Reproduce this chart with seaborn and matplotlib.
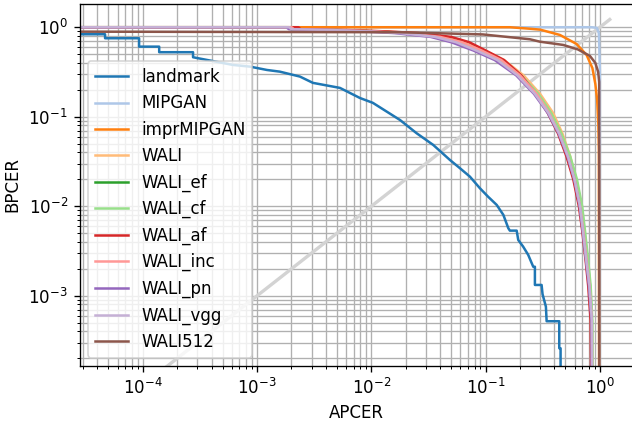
import matplotlib
matplotlib.use("Agg")
import matplotlib.pyplot as plt
import seaborn as sns

# DET 곡선 데이터
landmark_apcer = [2e-5, 4.67e-5, 4.67e-5, 9.27e-5, 9.27e-5, 1.39e-4, 1.39e-4, 2.75e-4, 2.75e-4,
                  6.15e-4, 8.67e-4, 1.22e-3, 1.58e-3, 2.37e-3, 3.08e-3, 5.31e-3, 7.94e-3, 1.03e-2,
                  1.78e-2, 2.49e-2, 3.48e-2, 4.87e-2, 5.96e-2, 7.29e-2, 8.91e-2, 0.105, 0.125, 0.143,
                  0.158, 0.163, 0.187, 0.193, 0.213, 0.236, 0.261, 0.270, 0.270, 0.309, 0.315, 0.337,
                  0.342, 0.441, 0.441, 0.453, 0.453]
landmark_bpcer = [0.835, 0.835, 0.753, 0.753, 0.607, 0.607, 0.526, 0.526, 0.462,
                  0.379, 0.363, 0.333, 0.319, 0.281, 0.239, 0.210, 0.162, 0.143,
                  0.092, 0.0654, 0.0484, 0.0329, 0.0266, 0.0214, 0.0159, 0.0128, 0.01035, 0.0080,
                  0.00568, 0.00534, 0.00534, 0.0042, 0.00354, 0.00286, 0.00211, 0.00211, 0.00132,
                  0.00132, 0.00104, 7.55e-4, 5.19e-4, 5.19e-4, 2.59e-4, 2.59e-4, 1e-5]

mipgan_apcer = [2e-5, 0.846, 0.941, 0.98, 1.0, 1.0]
mipgan_bpcer = [1.0, 1.0, 0.985, 0.857, 0.333, 1e-5]

impr_apcer = [2e-5, 0.163, 0.25, 0.30, 0.447, 0.625, 0.765, 0.86, 0.913, 0.947, 0.970, 0.98, 0.986]
impr_bpcer = [1.0, 1.0, 0.96, 0.94, 0.82, 0.65, 0.49, 0.35, 0.232, 0.154, 0.081, 0.0426, 1e-5]

wali512_apcer = [2e-5, 0.0178, 0.0947, 0.244, 0.298, 0.478, 0.642, 0.818, 0.913, 0.966, 0.986, 0.99]
wali512_bpcer = [0.893, 0.879, 0.831, 0.734, 0.69, 0.634, 0.565, 0.478, 0.399, 0.317, 0.245, 1e-5]

# WALI 계열은 같은 BPCER 수준에서 APCER 값만 조금씩 다름
wali_bpcer = [1.0, 1.0, 0.95, 0.93, 0.90, 0.86, 0.78, 0.68, 0.55, 0.43, 0.29, 0.18, 0.11,
              0.065, 0.036, 0.020, 0.010, 0.0054, 0.0025, 0.0013, 0.00053, 1e-5]
wali_apcer = [2e-5, 2.2e-3, 2.3e-3, 6e-3, 1.2e-2, 2.4e-2, 4.5e-2, 6.8e-2, 0.098, 0.145, 0.215,
              0.30, 0.39, 0.47, 0.55, 0.62, 0.68, 0.72, 0.77, 0.81, 0.845, 0.865]
wali_ef_apcer = [2e-5, 1.9e-3, 2.0e-3, 5e-3, 1.1e-2, 2.1e-2, 4.0e-2, 6.0e-2, 0.09, 0.135, 0.20,
                 0.28, 0.37, 0.455, 0.54, 0.62, 0.69, 0.73, 0.78, 0.82, 0.85, 0.86]
wali_cf_apcer = [2e-5, 2.0e-3, 2.1e-3, 5e-3, 1.0e-2, 2.0e-2, 3.9e-2, 6.0e-2, 0.09, 0.135, 0.205,
                 0.29, 0.375, 0.46, 0.55, 0.63, 0.70, 0.74, 0.79, 0.83, 0.86, 0.87]
wali_af_apcer = [2e-5, 2.3e-3, 2.4e-3, 6e-3, 1.3e-2, 2.6e-2, 5.0e-2, 7.2e-2, 0.10, 0.145, 0.205,
                 0.275, 0.35, 0.43, 0.51, 0.585, 0.655, 0.70, 0.75, 0.79, 0.83, 0.85]
wali_inc_apcer = [2e-5, 2.0e-3, 2.1e-3, 5e-3, 1.0e-2, 2.0e-2, 4.0e-2, 6.2e-2, 0.092, 0.137, 0.20,
                  0.28, 0.36, 0.44, 0.525, 0.60, 0.67, 0.715, 0.765, 0.81, 0.85, 0.86]
wali_pn_apcer = [2e-5, 1.8e-3, 1.9e-3, 4e-3, 8e-3, 1.6e-2, 3.3e-2, 5.0e-2, 0.078, 0.12, 0.185,
                 0.265, 0.35, 0.435, 0.52, 0.595, 0.665, 0.705, 0.755, 0.80, 0.845, 0.86]
wali_vgg_apcer = [2e-5, 1.9e-3, 2.0e-3, 4.5e-3, 9e-3, 1.8e-2, 3.6e-2, 5.5e-2, 0.083, 0.127, 0.19,
                  0.27, 0.355, 0.44, 0.525, 0.60, 0.67, 0.71, 0.76, 0.81, 0.85, 0.862]

diag = [1e-5, 1.22]

series = [
    ("landmark", landmark_apcer, landmark_bpcer),
    ("MIPGAN", mipgan_apcer, mipgan_bpcer),
    ("imprMIPGAN", impr_apcer, impr_bpcer),
    ("WALI", wali_apcer, wali_bpcer),
    ("WALI_ef", wali_ef_apcer, wali_bpcer),
    ("WALI_cf", wali_cf_apcer, wali_bpcer),
    ("WALI_af", wali_af_apcer, wali_bpcer),
    ("WALI_inc", wali_inc_apcer, wali_bpcer),
    ("WALI_pn", wali_pn_apcer, wali_bpcer),
    ("WALI_vgg", wali_vgg_apcer, wali_bpcer),
    ("WALI512", wali512_apcer, wali512_bpcer),
]
colors = sns.color_palette("tab20", 11)

# dpi 120 으로 그려서 글씨/선이 원본처럼 조금 크게 나오게
fig = plt.figure(figsize=(632 / 120, 421 / 120), dpi=120)
ax = fig.add_axes([0.1258, 0.1306, 0.877, 0.86])

# 대각선 (APCER = BPCER)
ax.plot(diag, diag, color="lightgray", linewidth=2)

for (name, xs, ys), c in zip(series, colors):
    sns.lineplot(x=xs, y=ys, color=c, label=name, ax=ax, sort=False, estimator=None, linewidth=1.5)

ax.set_xscale("log")
ax.set_yscale("log")
ax.set_xlim(2.79e-5, 1.98)
ax.set_ylim(1.64e-4, 1.82)
ax.grid(True, which="both")
ax.set_xlabel("APCER")
ax.set_ylabel("BPCER")
ax.legend(loc="lower left")

fig.savefig("out.png", dpi=120)
